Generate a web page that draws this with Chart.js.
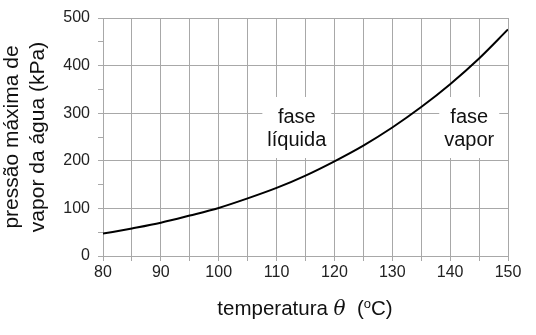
<!DOCTYPE html>
<html>
<head>
<meta charset="utf-8">
<script src="https://cdn.jsdelivr.net/npm/chart.js@4/dist/chart.umd.min.js"></script>
<style>
    html, body { margin: 0; padding: 0; background: #fff; }
    #wrap { width: 536px; height: 335px; }
</style>
</head>
<body>
<div id="wrap"><canvas id="vaporChart" width="536" height="335"></canvas></div>
<script>
// temperatura (ºC) e pressão máxima de vapor (kPa)
const temperatures = [80, 85, 90, 95, 100, 105, 110, 115, 120, 125, 130, 135, 140, 145, 150];
const pressures = [47, 58, 70, 85, 101, 121, 143, 169, 199, 232, 270, 313, 361, 415, 476];
const xTicks = [80, 90, 100, 110, 120, 130, 140, 150];
const yTicks = [0, 100, 200, 300, 400, 500];
const regionLabels = [
    { x: 113.5, y: 292, lines: ['fase', 'líquida'] },
    { x: 143.3, y: 292, lines: ['fase', 'vapor'] },
];

const FONT = '"Liberation Sans", Arial, sans-serif';
const GRID = '#a8a8a8';

// white boxes behind the phase labels (they cut the grid lines)
const labelsPlugin = {
    id: 'regionLabels',
    beforeDatasetsDraw(chart) {
        const { ctx, scales: { x, y } } = chart;
        ctx.save();
        ctx.font = '20px ' + FONT;
        ctx.textAlign = 'center';
        ctx.textBaseline = 'middle';
        regionLabels.forEach(lbl => {
            const cx = x.getPixelForValue(lbl.x);
            const cy = y.getPixelForValue(lbl.y);
            const w = Math.max(...lbl.lines.map(l => ctx.measureText(l).width)) + 10;
            ctx.fillStyle = '#fff';
            ctx.fillRect(cx - w / 2, cy - 20, w, 61);
            ctx.fillStyle = '#111';
            lbl.lines.forEach((l, i) => ctx.fillText(l, cx, cy + i * 23.5));
        });
        ctx.restore();
    },
    afterDraw(chart) {
        // x axis title with italic theta and superscript o
        const { ctx } = chart;
        const parts = [
            { t: 'temperatura ', f: '20.5px ' + FONT, dy: 0 },
            { t: 'θ', f: 'italic 20px "DejaVu Serif", serif', dy: 0 },
            { t: '  (', f: '20.5px ' + FONT, dy: 0 },
            { t: 'o', f: '13px ' + FONT, dy: -7 },
            { t: 'C)', f: '20.5px ' + FONT, dy: 0 },
        ];
        ctx.save();
        ctx.fillStyle = '#111';
        ctx.textBaseline = 'alphabetic';
        let total = 0;
        parts.forEach(p => { ctx.font = p.f; p.w = ctx.measureText(p.t).width; total += p.w; });
        let px = 305 - total / 2;
        parts.forEach(p => {
            ctx.font = p.f;
            ctx.fillText(p.t, px, 315 + p.dy);
            px += p.w;
        });
        ctx.restore();
    }
};

new Chart(document.getElementById('vaporChart'), {
    type: 'line',
    data: {
        datasets: [{
            data: temperatures.map((t, i) => ({ x: t, y: pressures[i] })),
            borderColor: '#000',
            borderWidth: 2,
            pointRadius: 0,
            cubicInterpolationMode: 'monotone',
        }]
    },
    options: {
        responsive: false,
        animation: false,
        layout: { padding: { left: 0, top: 18, right: 28, bottom: 0 } },
        plugins: { legend: { display: false }, tooltip: { enabled: false } },
        scales: {
            x: {
                type: 'linear',
                min: 80,
                max: 150,
                afterFit: s => { s.height = 79; },
                afterBuildTicks: s => { s.ticks = temperatures.map(v => ({ value: v })); },
                border: { color: GRID },
                grid: { color: GRID, tickColor: GRID, tickLength: 5 },
                ticks: {
                    color: '#222',
                    font: { family: FONT, size: 16 },
                    padding: 2,
                    maxRotation: 0,
                    autoSkip: false,
                    callback: v => xTicks.includes(v) ? String(v) : '',
                },
            },
            y: {
                min: 0,
                max: 500,
                afterFit: s => { s.width = 103; },
                afterBuildTicks: s => {
                    const t = [];
                    for (let v = 0; v <= 500; v += 50) t.push({ value: v });
                    s.ticks = t;
                },
                border: { color: GRID },
                grid: {
                    color: c => (c.tick && yTicks.includes(c.tick.value)) ? GRID : 'rgba(0,0,0,0)',
                    tickColor: GRID,
                    tickLength: 5,
                },
                ticks: {
                    color: '#222',
                    font: { family: FONT, size: 16 },
                    padding: 8,
                    autoSkip: false,
                    callback: v => yTicks.includes(v) ? String(v) : '',
                },
                title: {
                    display: true,
                    text: ['pressão máxima de', 'vapor da água (kPa)'],
                    color: '#111',
                    font: { family: FONT, size: 21, lineHeight: 1.2 },
                    padding: { top: 0, bottom: 4 },
                },
            },
        },
    },
    plugins: [labelsPlugin],
});
</script>
</body>
</html>
